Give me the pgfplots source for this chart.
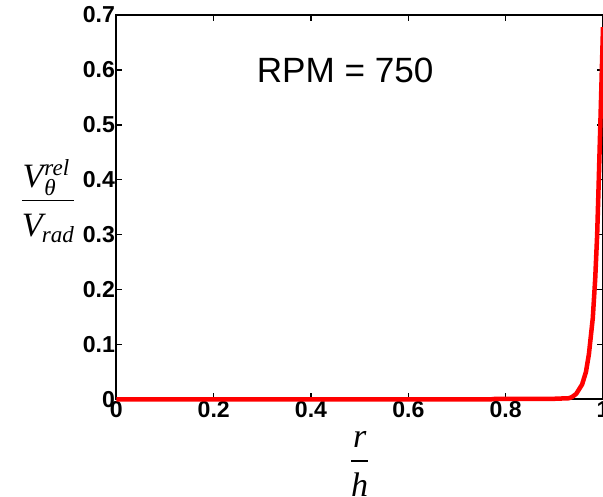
\documentclass[border=0pt]{standalone}
\usepackage{amsmath}
\usepackage{pgfplots}
\pgfplotsset{compat=1.18}
\usepackage{fontspec}
\setmainfont{Liberation Sans}
\newfontfamily\serif{Liberation Serif}
\newcommand{\LBx}[1]{\mbox{\serif\itshape\fontsize{34}{36}\selectfont #1}}
\newcommand{\SMx}[1]{\mbox{\serif\itshape\fontsize{23}{25}\selectfont #1}}
\begin{document}
\begin{tikzpicture}[trim axis right]
\begin{axis}[
  scale only axis,
  width=485pt, height=383pt,
  xmin=0, xmax=1, ymin=0, ymax=0.7,
  xtick={0,0.2,...,1}, ytick={0,0.1,...,0.7},
  xticklabels={0,0.2,0.4,0.6,0.8,1},
  yticklabels={0,0.1,0.2,0.3,0.4,0.5,0.6,0.7},
  tick align=inside,
  major tick length=6pt,
  every tick/.style={black, line width=1.5pt},
  axis line style={line width=1.8pt},
  tick label style={font=\fontsize{23}{25}\selectfont\bfseries},
  /pgf/number format/assume math mode=true,
  xticklabel style={yshift=1pt},
  yticklabel style={xshift=2pt},
  xlabel={$\genfrac{}{}{1.2pt}{0}{\LBx{r}\rule[-9pt]{0pt}{9pt}}{\rule{0pt}{31pt}\LBx{h}}$},
  xlabel style={at={(rel axis cs:0.5,0)}, anchor=north, inner sep=0pt, yshift=-32pt},
  ylabel={$\genfrac{}{}{1.2pt}{0}{\LBx{V}\kern1pt\rlap{\raisebox{-8pt}{\SMx{θ}}}\raisebox{12pt}{\SMx{rel}}\kern4pt}{\rule{0pt}{32pt}\LBx{V}\kern-1pt\raisebox{-6pt}{\SMx{rad}}}$},
  ylabel style={rotate=-90, at={(rel axis cs:0,0.5)}, anchor=east, inner sep=0pt, xshift=-41pt, yshift=6pt},
  clip=false,
]
\addplot[red, line width=4.5pt, line join=round] coordinates {
(0,0) (0.5,0) (0.77,0) (0.78,0.001) (0.9,0.001) (0.93,0.002)
(0.936,0.004) (0.945,0.010) (0.957,0.027) (0.965,0.05) (0.971,0.082) (0.979,0.148)
(0.984,0.22) (0.988,0.30) (0.991,0.39) (0.994,0.485) (0.997,0.58) (1.0,0.678)
};
\node[font=\fontsize{35}{37}\selectfont, anchor=center] at (axis cs:0.47,0.6) {RPM = 750};
\path (rel axis cs:0,0) ++(-116pt,0pt) coordinate (bbL);
\path (rel axis cs:0,1) ++(0pt,15pt) coordinate (bbT);
\end{axis}
\end{tikzpicture}
\end{document}
